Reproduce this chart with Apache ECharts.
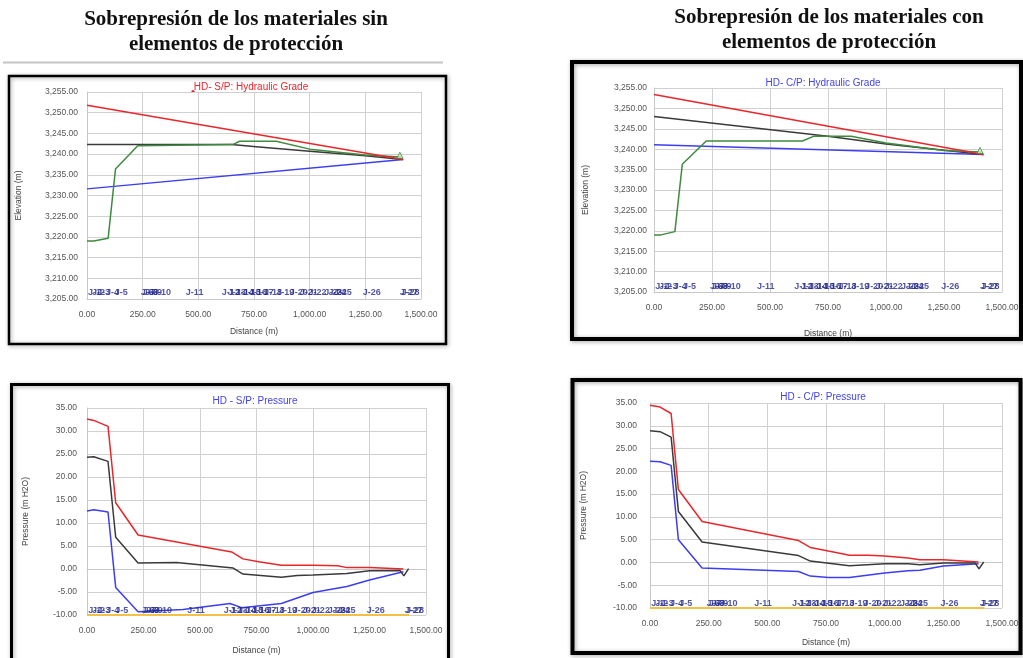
<!DOCTYPE html>
<html>
<head>
<meta charset="utf-8">
<script src="https://cdn.jsdelivr.net/npm/echarts@6/dist/echarts.min.js"></script>
<style>
  html, body { margin: 0; padding: 0; background: #fff; }
  #main { width: 1023px; height: 658px; }
</style>
</head>
<body>
<div id="main"></div>
<script>
  // junctions along the profile
  var junctionNames = ['J-1','J-2','J-3','J-4','J-5','J-6','J-7','J-8','J-9','J-10','J-11','J-12','J-13','J-14',
    'J-15','J-16','J-17','J-18','J-19','J-20','J-21','J-22','J-23','J-24','J-25','J-26','J-27','J-28'];
  var junctionDist = [5, 22, 45, 85, 125, 241, 250, 262, 278, 296, 444, 605, 632, 668, 700, 728, 758, 795,
    850, 910, 955, 995, 1065, 1085, 1108, 1238, 1405, 1412];

  // HD - S/P: Hydraulic Grade  [distance (m), elevation (m)]
  var spGradeRed   = [[0, 3251.8], [1420, 3238.7]];
  var spGradeBlack = [[0, 3242.3], [650, 3242.3], [760, 3241.8], [1000, 3240.7], [1250, 3239.6], [1420, 3238.7]];
  var spGradeGreen = [[0, 3219.0], [30, 3219.0], [95, 3219.7], [128, 3236.4], [228, 3242.0], [655, 3242.3],
    [685, 3243.1], [850, 3243.1], [1000, 3241.2], [1250, 3239.8], [1410, 3239.3]];
  var spGradeBlue  = [[0, 3231.6], [1420, 3238.7]];

  // HD - C/P: Hydraulic Grade
  var cpGradeRed   = [[0, 3253.4], [1420, 3238.7]];
  var cpGradeBlack = [[0, 3248.0], [750, 3243.2], [1000, 3241.3], [1420, 3238.7]];
  var cpGradeGreen = [[0, 3219.0], [30, 3219.0], [90, 3219.8], [122, 3236.3], [225, 3242.0], [640, 3242.0],
    [690, 3243.2], [850, 3243.2], [1000, 3241.5], [1250, 3239.7], [1410, 3239.3]];
  var cpGradeBlue  = [[0, 3241.1], [1420, 3238.7]];

  var tankPoint = [[1405, 3239.7]];

  // HD - S/P: Pressure  [distance (m), pressure (m H2O)]
  var spPresRed   = [[0, 32.6], [30, 32.3], [93, 31.0], [127, 14.4], [226, 7.4], [640, 3.7], [690, 2.2],
    [760, 1.6], [860, 0.8], [1000, 0.8], [1110, 0.7], [1150, 0.3], [1250, 0.3], [1400, 0.0]];
  var spPresBlack = [[0, 24.3], [30, 24.4], [93, 23.4], [127, 6.9], [226, 1.3], [396, 1.4], [647, 0.2],
    [690, -1.1], [860, -1.8], [930, -1.4], [1000, -1.3], [1150, -1.0], [1250, -0.4], [1385, -0.3],
    [1402, -1.5], [1423, 0.1]];
  var spPresBlue  = [[0, 12.6], [30, 12.9], [93, 12.4], [127, -4.0], [226, -9.3], [425, -8.8], [633, -7.5],
    [684, -8.4], [860, -7.5], [1000, -5.1], [1150, -3.8], [1250, -2.4], [1400, -0.6]];
  var spPresLimit = [[0, -10], [1425, -10]];

  // HD - C/P: Pressure
  var cpPresRed   = [[0, 34.5], [43, 34.1], [90, 32.7], [121, 16.0], [222, 9.0], [633, 4.8], [683, 3.3],
    [760, 2.5], [850, 1.6], [930, 1.6], [1000, 1.4], [1100, 1.0], [1150, 0.6], [1250, 0.6], [1400, 0.1]];
  var cpPresBlack = [[0, 28.9], [43, 28.7], [90, 27.5], [121, 11.2], [222, 4.5], [633, 1.5], [683, 0.3],
    [850, -0.7], [1000, -0.3], [1100, -0.3], [1150, -0.5], [1250, -0.1], [1385, -0.1], [1402, -1.4], [1422, 0.1]];
  var cpPresBlue  = [[0, 22.2], [43, 22.1], [90, 21.3], [121, 5.0], [222, -1.2], [633, -2.0], [683, -3.0],
    [760, -3.3], [850, -3.3], [1000, -2.3], [1100, -1.8], [1150, -1.7], [1250, -0.8], [1400, -0.3]];
  var cpPresLimit = [[0, -10], [1425, -10]];

  var dom = echarts.init(document.getElementById('main'));

  var SANS = '"Liberation Sans", Arial, sans-serif';
  var RED = '#e8262b', BLACK = '#3a3a3a', BLUE = '#3d3df0', GREEN = '#3e8a3e', ORANGE = '#f3c048';

  function fmt(v) {
    return v.toLocaleString('en-US', {minimumFractionDigits: 2, maximumFractionDigits: 2});
  }

  function xAx(i, nameGap) {
    return {
      gridIndex: i, type: 'value', min: 0, max: 1500, interval: 250,
      name: 'Distance (m)', nameLocation: 'middle', nameGap: nameGap,
      nameTextStyle: {fontSize: 8.5, color: '#444', fontFamily: SANS},
      axisLabel: {formatter: fmt, fontSize: 8.5, color: '#555', fontFamily: SANS, margin: 11},
      axisTick: {show: false},
      axisLine: {lineStyle: {color: '#c8c8c8'}},
      splitLine: {show: true, lineStyle: {color: '#d0d0d0'}}
    };
  }

  function yAx(i, min, max, name, nameGap, margin) {
    return {
      gridIndex: i, type: 'value', min: min, max: max, interval: 5,
      name: name, nameLocation: 'middle', nameGap: nameGap, nameRotate: 90,
      nameTextStyle: {fontSize: 8.5, color: '#444', fontFamily: SANS},
      axisLabel: {formatter: fmt, fontSize: 8.5, color: '#555', fontFamily: SANS, margin: margin},
      axisTick: {show: false},
      axisLine: {show: true, lineStyle: {color: '#c8c8c8'}},
      splitLine: {show: true, lineStyle: {color: '#d0d0d0'}}
    };
  }

  function line(i, data, color, w) {
    return {
      type: 'line', xAxisIndex: i, yAxisIndex: i, data: data, showSymbol: false,
      lineStyle: {color: color, width: w || 1.5}, itemStyle: {color: color}, silent: true, z: 3
    };
  }

  function junctions(i, yRow) {
    var pts = [];
    for (var k = 0; k < junctionNames.length; k++) {
      pts.push({value: [junctionDist[k], yRow], name: junctionNames[k]});
    }
    return {
      type: 'scatter', xAxisIndex: i, yAxisIndex: i, data: pts, symbolSize: 0, silent: true, z: 4,
      label: {
        show: true, position: 'right', distance: 0, formatter: '{b}',
        fontSize: 9, fontWeight: 'bold', color: '#262a8c', fontFamily: SANS
      }
    };
  }

  function tank(i) {
    return {
      type: 'scatter', xAxisIndex: i, yAxisIndex: i, data: tankPoint, symbol: 'triangle', symbolSize: 6,
      itemStyle: {color: '#d8e8d0', borderColor: GREEN, borderWidth: 1}, silent: true, z: 5
    };
  }

  function txt(x, y, s, font, color) {
    return {type: 'text', x: x, y: y, silent: true,
      style: {text: s, font: font, fill: color, align: 'center', verticalAlign: 'middle'}};
  }

  function frame(x, y, w, h, lw) {
    return {type: 'rect', shape: {x: x, y: y, width: w, height: h}, silent: true, z: 10,
      style: {fill: 'none', stroke: '#000', lineWidth: lw,
        shadowBlur: 4, shadowColor: 'rgba(0,0,0,0.35)', shadowOffsetX: 1, shadowOffsetY: 1}};
  }

  var HEAD = 'bold 21px "Liberation Serif", "Times New Roman", serif';
  var SUB = '10px ' + SANS;

  var option = {
    animation: false,
    backgroundColor: '#fff',
    grid: [
      {left: 87, top: 92, width: 334, height: 207},
      {left: 654, top: 88, width: 348, height: 204},
      {left: 87, top: 408, width: 339, height: 207},
      {left: 650, top: 403, width: 352, height: 205}
    ],
    xAxis: [xAx(0, 28), xAx(1, 37), xAx(2, 31), xAx(3, 30)],
    yAxis: [
      yAx(0, 3205, 3255, 'Elevation (m)', 64, 9),
      yAx(1, 3205, 3255, 'Elevation (m)', 64, 7),
      yAx(2, -10, 35, 'Pressure (m H2O)', 57, 10),
      yAx(3, -10, 35, 'Pressure (m H2O)', 62, 13)
    ],
    series: [
      line(0, spGradeBlue, BLUE), line(0, spGradeBlack, BLACK), line(0, spGradeGreen, GREEN),
      line(0, spGradeRed, RED), tank(0), junctions(0, 3206.5),

      line(1, cpGradeBlue, BLUE), line(1, cpGradeBlack, BLACK), line(1, cpGradeGreen, GREEN),
      line(1, cpGradeRed, RED), tank(1), junctions(1, 3206.3),

      line(2, spPresLimit, ORANGE, 2), line(2, spPresBlue, BLUE), line(2, spPresRed, RED),
      line(2, spPresBlack, BLACK), junctions(2, -9.1),

      line(3, cpPresLimit, ORANGE, 2), line(3, cpPresBlue, BLUE), line(3, cpPresRed, RED),
      line(3, cpPresBlack, BLACK), junctions(3, -9.0)
    ],
    graphic: [
      txt(236, 20, 'Sobrepresión de los materiales sin', HEAD, '#111'),
      txt(236, 45, 'elementos de protección', HEAD, '#111'),
      txt(829, 18, 'Sobrepresión de los materiales con', HEAD, '#111'),
      txt(829, 43, 'elementos de protección', HEAD, '#111'),
      {type: 'line', shape: {x1: 3, y1: 62.5, x2: 443, y2: 62.5}, silent: true,
        style: {stroke: '#c4c4c4', lineWidth: 2}},

      frame(9, 76, 437, 268, 2.5),
      frame(572, 62, 449, 277, 4),
      frame(11.5, 384.5, 437, 290, 3),
      frame(572.5, 380, 448, 273, 4),

      {type: 'circle', shape: {cx: 193, cy: 91.5, r: 1.6}, silent: true, style: {fill: RED}},
      txt(251, 87, 'HD- S/P: Hydraulic Grade', SUB, RED),
      txt(823, 83.5, 'HD- C/P: Hydraulic Grade', SUB, '#4444e6'),
      txt(255, 401, 'HD - S/P: Pressure', SUB, '#4444e6'),
      txt(823, 397, 'HD - C/P: Pressure', SUB, '#4444e6')
    ]
  };

  dom.setOption(option);
</script>
</body>
</html>
